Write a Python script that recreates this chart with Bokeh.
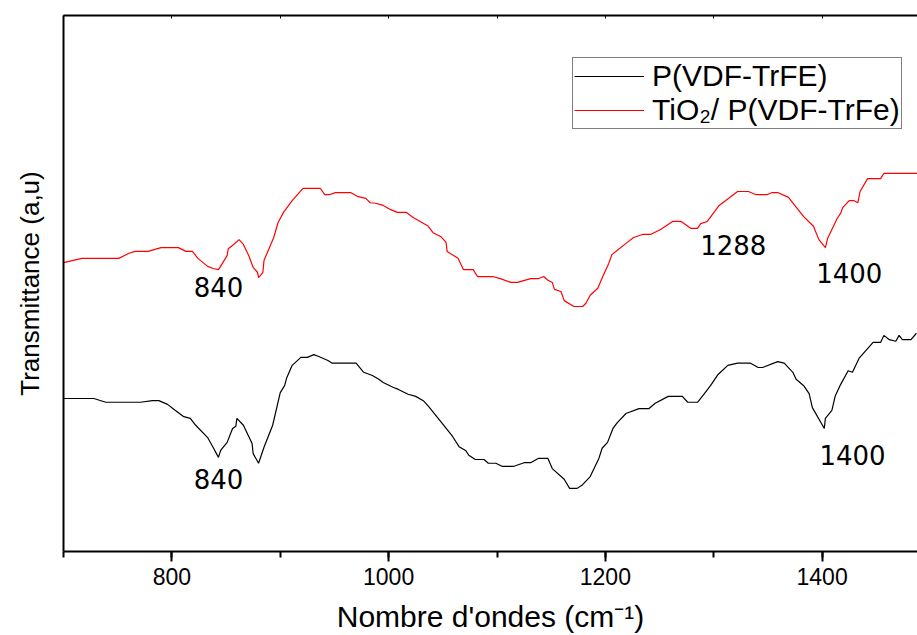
from bokeh.plotting import figure
from bokeh.models import (ColumnDataSource, LinearAxis, SingleIntervalTicker, FixedTicker,
                          Range1d, Legend, LegendItem)
from bokeh.embed import file_html
from bokeh.resources import INLINE
from bokeh.core.properties import value

# FTIR spectra: wavenumber (cm^-1) against transmittance (arbitrary units)
wn_pure = [700, 728, 739, 771, 782, 788, 796, 803, 811, 817,
           822, 833, 838, 843, 845, 851, 856, 859, 860, 866,
           874, 875, 880, 885, 893, 900, 904, 906, 911, 919,
           925, 931, 935, 944, 948, 970, 977, 985, 991, 995,
           1004, 1009, 1018, 1025, 1032, 1037, 1050, 1059, 1065, 1071,
           1074, 1080, 1088, 1092, 1099, 1105, 1115, 1125, 1131, 1138,
           1147, 1151, 1162, 1167, 1174, 1179, 1186, 1194, 1197, 1202,
           1207, 1211, 1219, 1231, 1240, 1246, 1258, 1271, 1276, 1285,
           1291, 1297, 1304, 1313, 1322, 1334, 1341, 1345, 1359, 1365,
           1373, 1376, 1383, 1388, 1391, 1402, 1403, 1409, 1412, 1417,
           1424, 1428, 1434, 1447, 1454, 1457, 1462, 1468, 1471, 1474,
           1482, 1487]
t_pure = [28.4, 28.4, 27.7, 27.7, 28.0, 28.0, 27.3, 26.2, 25.0, 24.7,
          23.4, 21.1, 19.3, 17.4, 18.7, 20.2, 22.8, 23.2, 24.7, 23.4,
          20.0, 18.1, 16.3, 19.3, 23.4, 29.5, 30.8, 32.3, 34.6, 36.1,
          36.1, 36.6, 36.3, 35.5, 35.0, 35.0, 33.3, 32.7, 32.0, 31.4,
          30.5, 30.1, 29.2, 28.8, 28.0, 26.9, 23.6, 21.3, 19.4, 18.7,
          17.8, 17.0, 17.0, 16.3, 16.3, 15.7, 15.7, 16.4, 16.4, 17.2,
          17.2, 15.3, 13.3, 11.6, 11.6, 12.3, 13.8, 17.2, 19.1, 20.2,
          22.8, 23.9, 25.6, 26.5, 26.5, 27.5, 28.8, 28.8, 27.7, 27.7,
          29.2, 30.8, 32.9, 34.6, 35.0, 35.0, 34.2, 34.2, 35.3, 35.0,
          33.3, 32.0, 30.8, 29.3, 26.7, 22.8, 24.7, 26.2, 28.8, 31.0,
          33.6, 33.3, 35.9, 38.9, 38.9, 40.2, 39.4, 39.1, 40.2, 39.4,
          39.4, 40.6]

wn_tio2 = [700, 717, 751, 760, 766, 778, 790, 806, 813, 819,
           824, 833, 838, 843, 851, 852, 857, 862, 866, 871,
           875, 879, 880, 884, 885, 894, 898, 903, 911, 921,
           937, 941, 945, 951, 965, 971, 979, 983, 988, 995,
           1002, 1008, 1016, 1023, 1036, 1041, 1048, 1053, 1054, 1064,
           1069, 1078, 1082, 1096, 1103, 1113, 1119, 1131, 1138, 1143,
           1147, 1151, 1153, 1159, 1162, 1171, 1179, 1182, 1186, 1193,
           1198, 1203, 1206, 1211, 1219, 1226, 1235, 1242, 1251, 1262,
           1270, 1279, 1285, 1288, 1294, 1305, 1322, 1332, 1339, 1349,
           1354, 1359, 1369, 1374, 1383, 1392, 1397, 1403, 1405, 1414,
           1417, 1419, 1425, 1429, 1433, 1435, 1442, 1454, 1457, 1488]
t_tio2 = [53.8, 54.6, 54.6, 55.5, 55.9, 55.9, 56.6, 56.6, 55.9, 55.9,
          54.6, 53.1, 52.7, 52.5, 55.1, 56.4, 57.2, 58.1, 57.2, 55.1,
          52.9, 52.0, 51.0, 52.0, 54.2, 58.5, 61.3, 63.2, 65.4, 67.7,
          67.7, 66.5, 66.5, 66.9, 66.9, 66.2, 65.8, 65.0, 64.9, 64.5,
          63.7, 63.2, 63.2, 62.2, 60.7, 59.4, 58.7, 57.6, 55.9, 54.6,
          52.5, 52.5, 51.2, 51.2, 50.8, 50.1, 50.1, 50.8, 50.8, 51.2,
          50.5, 50.1, 48.8, 48.4, 46.7, 45.6, 45.6, 46.2, 47.7, 49.0,
          51.4, 53.6, 55.3, 56.1, 57.4, 58.5, 59.1, 59.1, 60.0, 61.5,
          61.5, 60.2, 60.2, 61.1, 61.5, 64.5, 67.1, 67.1, 66.5, 66.5,
          66.9, 66.9, 66.0, 64.7, 62.4, 60.6, 58.1, 56.6, 58.3, 62.1,
          63.0, 64.1, 65.4, 65.4, 65.0, 67.1, 69.5, 69.5, 70.5, 70.5]

# Band annotations (text position in data units)
peak_text = ["840", "1288", "1400", "840", "1400"]
peak_x = [843, 1318, 1425, 843, 1428]
peak_y = [49.3, 57.1, 51.9, 13.3, 17.9]

series_names = ["P(VDF-TrFE)", "TiO\u2082/ P(VDF-TrFe)"]
x_title = "Nombre d'ondes (cm\u207b\u00b9)"
y_title = "Transmittance (a,u)"
top_ticks = [700, 800, 900, 1000, 1100, 1200, 1300, 1400]

AXIS_FONT = "Liberation Sans"

p = figure(width=917, height=635,
           x_range=Range1d(700, 1488), y_range=Range1d(-0.2, 100),
           output_backend="svg", toolbar_location=None,
           x_axis_location=None, y_axis_location=None,
           min_border_left=63, min_border_right=0,
           min_border_top=15, min_border_bottom=84)
p.outline_line_color = None
p.grid.visible = False
p.background_fill_color = "white"
p.border_fill_color = "white"

# bottom axis: major ticks every 200, one minor tick in between
xb = LinearAxis(ticker=SingleIntervalTicker(interval=200, num_minor_ticks=2),
                axis_label=x_title)
xb.axis_line_width = 2
xb.major_tick_line_width = 2
xb.minor_tick_line_width = 2
xb.major_tick_out = 10
xb.major_tick_in = 0
xb.minor_tick_out = 6
xb.minor_tick_in = 0
xb.major_label_standoff = 6
xb.major_label_text_font = AXIS_FONT
xb.major_label_text_font_size = "23px"
xb.major_label_text_color = "black"
xb.axis_label_text_font = AXIS_FONT
xb.axis_label_text_font_size = "30px"
xb.axis_label_text_font_style = "normal"
xb.axis_label_text_color = "black"
xb.axis_label_standoff = 12
p.add_layout(xb, "below")

# top frame edge with small inward ticks, no labels
xt = LinearAxis(ticker=FixedTicker(ticks=[], minor_ticks=top_ticks))
xt.axis_line_width = 2
xt.minor_tick_line_width = 1
xt.minor_tick_in = 3
xt.minor_tick_out = 0
xt.major_tick_in = 0
xt.major_tick_out = 0
xt.major_label_standoff = 0
p.add_layout(xt, "above")

# left frame edge carrying the title only
yl = LinearAxis(ticker=FixedTicker(ticks=[]), axis_label=y_title)
yl.axis_line_width = 2
yl.major_tick_out = 0
yl.major_tick_in = 0
yl.minor_tick_out = 0
yl.minor_tick_in = 0
yl.major_label_standoff = 0
yl.axis_label_text_font = AXIS_FONT
yl.axis_label_text_font_size = "26px"
yl.axis_label_text_font_style = "normal"
yl.axis_label_text_color = "black"
yl.axis_label_standoff = 19
p.add_layout(yl, "left")

r_pure = p.line(wn_pure, t_pure, line_color="black", line_width=1.2)
r_tio2 = p.line(wn_tio2, t_tio2, line_color="#ff0000", line_width=1.2)

labels = ColumnDataSource(dict(x=peak_x, y=peak_y, t=peak_text))
p.text(x="x", y="y", text="t", source=labels,
       text_font=value("DejaVu Sans"), text_font_size="26px",
       text_align="center", text_baseline="middle", text_color="black")

legend = Legend(items=[LegendItem(label=series_names[0], renderers=[r_pure]),
                       LegendItem(label=series_names[1], renderers=[r_tio2])],
                location=(509, 422))
legend.border_line_color = "black"
legend.border_line_width = 1
legend.background_fill_color = "white"
legend.background_fill_alpha = 1
legend.padding = 1
legend.spacing = 0
legend.margin = 0
legend.glyph_width = 70
legend.glyph_height = 30
legend.label_height = 30
legend.label_standoff = 8
legend.label_text_font = AXIS_FONT
legend.label_text_font_size = "30px"
legend.label_text_color = "black"
legend.label_text_baseline = "middle"
p.add_layout(legend, "center")

open("out.html", "w").write(file_html(p, INLINE))
